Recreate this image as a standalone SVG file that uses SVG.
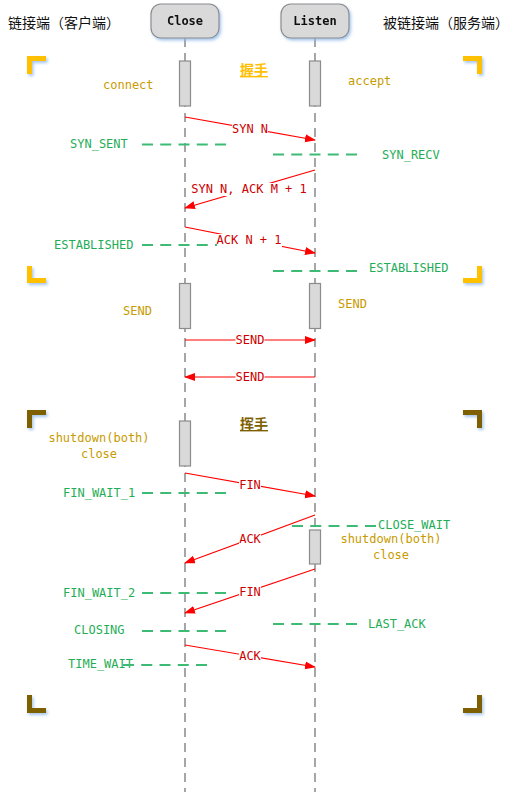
<svg xmlns="http://www.w3.org/2000/svg" width="522" height="800" viewBox="0 0 522 800">
<style>
.cn{font-family:"Noto Sans CJK SC","Noto Sans",sans-serif;font-size:14px;fill:#111}
.mono{font-family:"DejaVu Sans Mono","Liberation Mono",monospace;font-size:12px}
.head{font-family:"DejaVu Sans Mono","Liberation Mono",monospace;font-size:12px;font-weight:bold;fill:#111;text-anchor:middle}
.life{stroke:#a6a6a6;stroke-width:2;stroke-dasharray:9 6;fill:none}
.act{fill:#d9d9d9;stroke:#8c8c8c;stroke-width:1.2}
.hbox{fill:#d9d9d9;stroke:#8c8c8c;stroke-width:1.2}
.gold{fill:#c89b00}
.st{fill:#1fae57}
.sd{stroke:#3dbb75;stroke-width:2;stroke-dasharray:11 7.25;fill:none}
.msg{stroke:#ff0000;stroke-width:1.2;fill:none;marker-end:url(#ah)}
.ml{fill:#cc0000;text-anchor:middle}
.lb{fill:#fff}
.br1{stroke:#ffc000;stroke-width:5;fill:none;stroke-linejoin:miter}
.br2{stroke:#7f6000;stroke-width:5;fill:none;stroke-linejoin:miter}
.title{font-family:"Noto Sans CJK SC",sans-serif;font-size:14px;font-weight:bold;text-decoration:underline;text-anchor:middle}
</style>
<defs>
<marker id="ah" markerWidth="11" markerHeight="9" refX="10" refY="4" orient="auto" markerUnits="userSpaceOnUse"><path d="M0,0 L11,4 L0,8 z" fill="#ff0000"/></marker>
<filter id="sh" x="-20%" y="-20%" width="150%" height="160%"><feDropShadow dx="1.5" dy="2" stdDeviation="1.5" flood-color="#8fb8e8" flood-opacity="0.8"/></filter>
</defs>

<g id="labels-top">
<text class="cn" x="8" y="28">链接端（客户端）</text>
<text class="cn" x="383" y="28">被链接端（服务端）</text>
</g>

<g id="lifelines">
<line class="life" x1="185" y1="38" x2="185" y2="792"/>
<line class="life" x1="315" y1="38" x2="315" y2="792"/>
</g>

<g id="close-head" filter="url(#sh)"><rect class="hbox" x="151" y="4" width="68" height="34" rx="10"/><text class="head" x="185" y="25">Close</text></g>
<g id="listen-head" filter="url(#sh)"><rect class="hbox" x="281" y="4" width="68" height="34" rx="10"/><text class="head" x="315" y="25">Listen</text></g>

<g id="activations">
<rect class="act" x="179.5" y="61" width="11" height="45"/>
<rect class="act" x="309.5" y="61" width="11" height="45"/>
<rect class="act" x="179.5" y="283.5" width="11" height="45"/>
<rect class="act" x="309.5" y="283.5" width="11" height="45"/>
<rect class="act" x="179.5" y="421" width="11" height="45"/>
<rect class="act" x="309.5" y="530" width="11" height="34"/>
</g>

<g id="brackets" filter="url(#sh)">
<path class="br1" d="M29.5,74 V58.5 H46"/>
<path class="br1" d="M463,58.5 H479.5 V74"/>
<path class="br1" d="M29.5,266 V280.5 H46"/>
<path class="br1" d="M463,280.5 H479.5 V266"/>
<path class="br2" d="M29.5,428 V412.5 H46"/>
<path class="br2" d="M463,412.5 H479.5 V428"/>
<path class="br2" d="M29.5,695 V710.5 H46"/>
<path class="br2" d="M463,710.5 H479.5 V695"/>
</g>

<g id="titles">
<text class="title" x="254" y="75" fill="#ffc000">握手</text>
<text class="title" x="254" y="429" fill="#7f6000">挥手</text>
</g>

<g id="notes" class="mono">
<text class="gold" x="103" y="89">connect</text>
<text class="gold" x="348" y="85">accept</text>
<text class="gold" x="123" y="315">SEND</text>
<text class="gold" x="338" y="308">SEND</text>
<text class="gold" x="99" y="442" text-anchor="middle">shutdown(both)</text>
<text class="gold" x="99" y="458" text-anchor="middle">close</text>
<text class="gold" x="391" y="543" text-anchor="middle">shutdown(both)</text>
<text class="gold" x="391" y="559" text-anchor="middle">close</text>
</g>

<g id="states" class="mono">
<text class="st" x="70" y="148">SYN_SENT</text>
<text class="st" x="382" y="159">SYN_RECV</text>
<text class="st" x="54" y="249">ESTABLISHED</text>
<text class="st" x="369" y="272">ESTABLISHED</text>
<text class="st" x="63" y="497">FIN_WAIT_1</text>
<text class="st" x="378" y="529">CLOSE_WAIT</text>
<text class="st" x="63" y="597">FIN_WAIT_2</text>
<text class="st" x="368" y="628">LAST_ACK</text>
<text class="st" x="74" y="634">CLOSING</text>
<text class="st" x="68" y="668">TIME_WAIT</text>
</g>

<g id="state-lines">
<line class="sd" x1="142" y1="144.5" x2="226" y2="144.5"/>
<line class="sd" x1="273" y1="154.5" x2="357" y2="154.5"/>
<line class="sd" x1="142" y1="245" x2="226" y2="245"/>
<line class="sd" x1="273" y1="271" x2="357" y2="271"/>
<line class="sd" x1="142" y1="493" x2="226" y2="493"/>
<line class="sd" x1="292" y1="526" x2="377" y2="526"/>
<line class="sd" x1="142" y1="593" x2="226" y2="593"/>
<line class="sd" x1="273" y1="624" x2="357" y2="624"/>
<line class="sd" x1="142" y1="631" x2="226" y2="631"/>
<line class="sd" x1="123" y1="665" x2="208" y2="665"/>
</g>

<g id="connectors">
<line class="msg" x1="185" y1="117" x2="315" y2="140"/>
<line class="msg" x1="315" y1="170" x2="185" y2="208"/>
<line class="msg" x1="185" y1="227" x2="315" y2="253"/>
<line class="msg" x1="185" y1="340" x2="315" y2="340"/>
<line class="msg" x1="315" y1="377" x2="185" y2="377"/>
<line class="msg" x1="185" y1="473" x2="315" y2="496"/>
<line class="msg" x1="315" y1="515" x2="185" y2="563"/>
<line class="msg" x1="315" y1="569" x2="185" y2="613"/>
<line class="msg" x1="185" y1="645" x2="315" y2="667"/>
<g class="lb">
<rect x="232" y="123" width="36" height="13"/>
<rect x="191" y="183" width="116" height="13"/>
<rect x="217" y="234" width="65" height="13"/>
<rect x="235.5" y="334" width="29" height="13"/>
<rect x="235.5" y="371" width="29" height="13"/>
<rect x="239" y="479" width="22" height="13"/>
<rect x="239" y="533" width="22" height="13"/>
<rect x="239" y="586" width="22" height="13"/>
<rect x="239" y="650" width="22" height="13"/>
</g>
<g class="mono">
<text class="ml" x="250" y="133">SYN N</text>
<text class="ml" x="249" y="193">SYN N, ACK M + 1</text>
<text class="ml" x="249" y="244">ACK N + 1</text>
<text class="ml" x="250" y="344">SEND</text>
<text class="ml" x="250" y="381">SEND</text>
<text class="ml" x="250" y="489">FIN</text>
<text class="ml" x="250" y="543">ACK</text>
<text class="ml" x="250" y="596">FIN</text>
<text class="ml" x="250" y="660">ACK</text>
</g>
</g>
</svg>
